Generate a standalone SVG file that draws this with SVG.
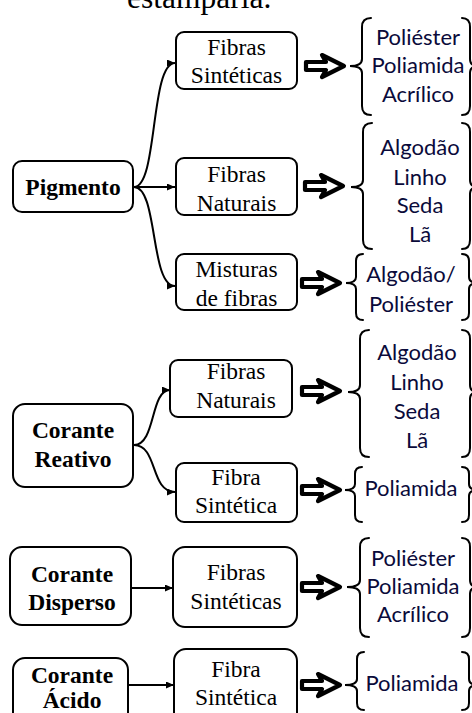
<svg xmlns="http://www.w3.org/2000/svg" width="472" height="713" viewBox="0 0 472 713">
<style>
.box{fill:#fff;stroke:#000;stroke-width:2}
.t{font-family:"Liberation Serif","Times New Roman",serif;font-size:23.5px;fill:#000;text-anchor:middle}
.b{font-weight:bold}
.c{font-family:Lato,"Noto Sans",sans-serif;font-size:22px;fill:#0a0a3a;text-anchor:middle}
.con{fill:none;stroke:#000;stroke-width:2}
.br{fill:none;stroke:#000;stroke-width:2;stroke-linecap:round}
.ar{fill:#fff;stroke:#000;stroke-width:4.2;stroke-linejoin:round;stroke-linecap:round}
</style>
<defs>
<marker id="ah" markerUnits="userSpaceOnUse" markerWidth="9" markerHeight="8" refX="8" refY="3.5" orient="auto">
<path d="M0,0 L8,3.5 L0,7 z" fill="#000"/>
</marker>
<path id="big" class="ar" d="M2,-4 H22 L18,-11 L40,0 L18,11 L22,4 H2 Z"/>
</defs>
<rect width="472" height="713" fill="#fff"/>
<text x="127" y="8" font-family="Liberation Serif,serif" font-size="31.5">estamparia.</text>

<g id="connectors">
<path class="con" marker-end="url(#ah)" d="M134,187 C158,187 150,63 175,63"/>
<path class="con" marker-end="url(#ah)" d="M134,187 H175"/>
<path class="con" marker-end="url(#ah)" d="M134,187 C158,187 150,286 175,286"/>
<path class="con" marker-end="url(#ah)" d="M134,445 C156,445 150,390 170,390"/>
<path class="con" marker-end="url(#ah)" d="M134,445 C158,445 150,492 175,492"/>
<path class="con" marker-end="url(#ah)" d="M131,588 H173"/>
<path class="con" marker-end="url(#ah)" d="M128,685 H174"/>
<use href="#big" x="304" y="66"/>
<use href="#big" x="303" y="186"/>
<use href="#big" x="300" y="283"/>
<use href="#big" x="300" y="391"/>
<use href="#big" x="300" y="490"/>
<use href="#big" x="300" y="587"/>
<use href="#big" x="300" y="685"/>
</g>

<g id="pigmento"><rect class="box" x="13" y="161" width="120" height="51" rx="9"/><text class="t b" x="73" y="195">Pigmento</text></g>
<g id="pig-sint"><rect class="box" x="176" y="32" width="121" height="57" rx="8"/><text class="t" x="236.5" y="55">Fibras</text><text class="t" x="236.5" y="83">Sintéticas</text></g>
<g id="pig-nat"><rect class="box" x="176" y="158" width="121" height="57" rx="8"/><text class="t" x="236.5" y="182">Fibras</text><text class="t" x="236.5" y="211">Naturais</text></g>
<g id="pig-mist"><rect class="box" x="176" y="254" width="121" height="56" rx="8"/><text class="t" x="236.5" y="277">Misturas</text><text class="t" x="236.5" y="306">de fibras</text></g>

<g id="reativo"><rect class="box" x="13" y="404" width="120" height="83" rx="12"/><text class="t b" x="73" y="438">Corante</text><text class="t b" x="73" y="467">Reativo</text></g>
<g id="reat-nat"><rect class="box" x="170" y="360" width="122" height="57" rx="8"/><text class="t" x="236" y="379">Fibras</text><text class="t" x="236" y="408">Naturais</text></g>
<g id="reat-sint"><rect class="box" x="176" y="463" width="121" height="59" rx="8"/><text class="t" x="236" y="485">Fibra</text><text class="t" x="236" y="513">Sintética</text></g>

<g id="disperso"><rect class="box" x="10" y="547" width="121" height="78" rx="12"/><text class="t b" x="72" y="582">Corante</text><text class="t b" x="72" y="610">Disperso</text></g>
<g id="disp-sint"><rect class="box" x="173" y="547" width="124" height="80" rx="12"/><text class="t" x="236" y="580">Fibras</text><text class="t" x="236" y="609">Sintéticas</text></g>

<g id="acido"><rect class="box" x="13" y="658" width="115" height="80" rx="12"/><text class="t b" x="72" y="683">Corante</text><text class="t b" x="72" y="708">Ácido</text></g>
<g id="acid-sint"><rect class="box" x="174" y="649" width="123" height="90" rx="12"/><text class="t" x="236" y="677">Fibra</text><text class="t" x="236" y="705">Sintética</text></g>

<g id="set1">
<path class="br" d="M371,18 Q362,18 362,27 V59 Q362,66 350,66 Q362,66 362,73 V106 Q362,115 371,115"/>
<path class="br" d="M462,18 Q470,18 470,27 V59 Q470,66 478,66 Q470,66 470,73 V106 Q470,115 462,115"/>
<text class="c" x="418" y="45">Poliéster</text><text class="c" x="418" y="73">Poliamida</text><text class="c" x="418" y="102">Acrílico</text>
</g>
<g id="set2">
<path class="br" d="M372,123 Q363,123 363,132 V180 Q363,187 351,187 Q363,187 363,194 V240 Q363,249 372,249"/>
<path class="br" d="M462,123 Q470,123 470,132 V180 Q470,187 478,187 Q470,187 470,194 V240 Q470,249 462,249"/>
<text class="c" x="420" y="155">Algodão</text><text class="c" x="420" y="185">Linho</text><text class="c" x="420" y="213">Seda</text><text class="c" x="420" y="242">Lã</text>
</g>
<g id="set3">
<path class="br" d="M363,254 Q356,254 356,261 V277 Q356,283 346,283 Q356,283 356,289 V313 Q356,320 363,320"/>
<path class="br" d="M462,254 Q469,254 469,261 V277 Q469,283 478,283 Q469,283 469,289 V313 Q469,320 462,320"/>
<text class="c" x="411" y="282">Algodão/</text><text class="c" x="411" y="312">Poliéster</text>
</g>
<g id="set4">
<path class="br" d="M369,330 Q360,330 360,339 V385 Q360,392 348,392 Q360,392 360,399 V448 Q360,457 369,457"/>
<path class="br" d="M462,330 Q470,330 470,339 V385 Q470,392 478,392 Q470,392 470,399 V448 Q470,457 462,457"/>
<text class="c" x="417" y="360">Algodão</text><text class="c" x="417" y="390">Linho</text><text class="c" x="417" y="419">Seda</text><text class="c" x="417" y="448">Lã</text>
</g>
<g id="set5">
<path class="br" d="M362,467 Q355,467 355,474 V484 Q355,490 345,490 Q355,490 355,496 V515 Q355,522 362,522"/>
<path class="br" d="M462,467 Q469,467 469,474 V484 Q469,490 478,490 Q469,490 469,496 V515 Q469,522 462,522"/>
<text class="c" x="411" y="496">Poliamida</text>
</g>
<g id="set6">
<path class="br" d="M369,538 Q360,538 360,547 V580 Q360,587 347,587 Q360,587 360,594 V628 Q360,637 369,637"/>
<path class="br" d="M462,538 Q470,538 470,547 V580 Q470,587 478,587 Q470,587 470,594 V628 Q470,637 462,637"/>
<text class="c" x="413" y="566">Poliéster</text><text class="c" x="413" y="594">Poliamida</text><text class="c" x="413" y="622">Acrílico</text>
</g>
<g id="set7">
<path class="br" d="M364,652 Q357,652 357,659 V679 Q357,685 345,685 Q357,685 357,691 V703 Q357,710 364,710"/>
<path class="br" d="M462,652 Q469,652 469,659 V679 Q469,685 478,685 Q469,685 469,691 V703 Q469,710 462,710"/>
<text class="c" x="412" y="691">Poliamida</text>
</g>
</svg>
